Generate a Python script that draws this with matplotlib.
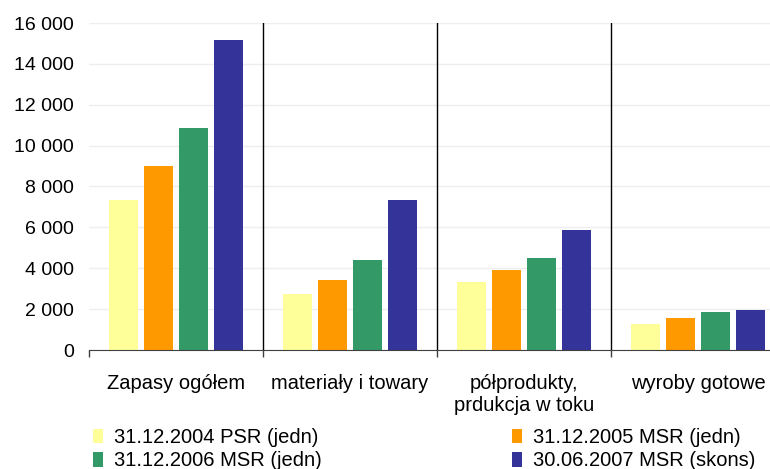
import matplotlib
matplotlib.use("Agg")
import matplotlib.pyplot as plt
from matplotlib.patches import Patch
import numpy as np

plt.rcParams['font.family'] = ['Liberation Sans', 'DejaVu Sans']

# Data
categories = ['Zapasy ogółem', 'materiały i towary',
              'półprodukty,\nprdukcja w toku', 'wyroby gotowe']
series_names = ['31.12.2004 PSR (jedn)', '31.12.2005 MSR (jedn)',
                '31.12.2006 MSR (jedn)', '30.06.2007 MSR (skons)']
psr_2004 = [7350, 2740, 3330, 1270]
msr_2005 = [9000, 3420, 3910, 1570]
msr_2006 = [10870, 4400, 4500, 1860]
msr_2007 = [15150, 7350, 5880, 1960]
y_ticks = [0, 2000, 4000, 6000, 8000, 10000, 12000, 14000, 16000]
y_tick_labels = ['0', '2 000', '4 000', '6 000', '8 000', '10 000',
                 '12 000', '14 000', '16 000']

colors = ['#FFFF99', '#FF9900', '#339966', '#333399']
values = [psr_2004, msr_2005, msr_2006, msr_2007]

fig = plt.figure(figsize=(7.7, 4.69), dpi=100)
ax = fig.add_axes([89 / 770, 1 - 350 / 469, 696 / 770, 327 / 469])

x = np.arange(len(categories))
pitch = 0.2
width = 0.167
for i, (vals, col) in enumerate(zip(values, colors)):
    ax.bar(x + (i - 1.5) * pitch, vals, width=width, color=col, zorder=2)

ax.set_xlim(-0.5, len(categories) - 0.5)
ax.set_ylim(0, 16000)

# light horizontal grid
ax.set_yticks(y_ticks)
ax.set_yticklabels(y_tick_labels)
ax.yaxis.grid(True, color='#EEEEEE', linewidth=1, zorder=0)
ax.set_axisbelow(True)

# separators between categories
for b in x[:-1] + 0.5:
    ax.axvline(b, color='black', linewidth=1, zorder=3)

# x axis: boundary ticks, labels at category centres
ax.set_xticks(np.arange(-0.5, len(categories)), minor=False)
ax.set_xticklabels([])
ax.set_xticks(x, minor=True)
ax.set_xticklabels(categories, minor=True, fontsize=14.5, linespacing=1.2)
ax.tick_params(axis='x', which='major', direction='out', length=5,
               color='#404040', width=1)
ax.tick_params(axis='x', which='minor', length=0, pad=17)
ax.tick_params(axis='y', length=0, pad=11, labelsize=14)

for s in ['top', 'right', 'left']:
    ax.spines[s].set_visible(False)
ax.spines['bottom'].set_color('#404040')
ax.spines['bottom'].set_zorder(4)

# legend in two columns placed under the chart
handles = [Patch(facecolor=c, edgecolor='none') for c in colors]
leg_kw = dict(frameon=False, fontsize=14.5, handlelength=0.5,
              handleheight=0.75, handletextpad=0.55, labelspacing=0.22,
              borderaxespad=0, borderpad=0)
leg1 = fig.legend([handles[0], handles[2]], [series_names[0], series_names[2]],
                  loc='upper left', bbox_to_anchor=(93 / 770, 1 - 428 / 469),
                  **leg_kw)
leg2 = fig.legend([handles[1], handles[3]], [series_names[1], series_names[3]],
                  loc='upper left', bbox_to_anchor=(512 / 770, 1 - 428 / 469),
                  **leg_kw)

fig.savefig('out.png', dpi=100)
